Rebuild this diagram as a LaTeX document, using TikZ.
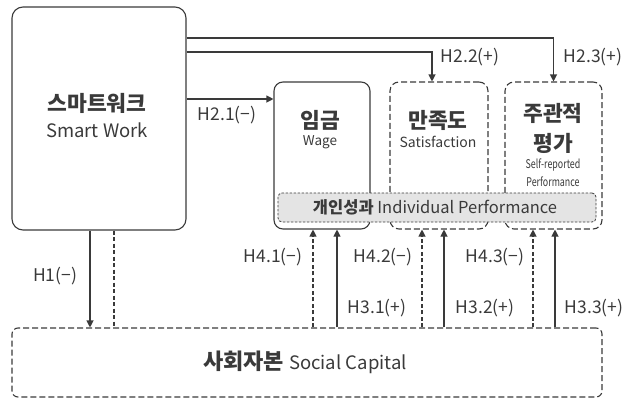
\documentclass[tikz,border=0pt]{standalone}
\usepackage{fontspec}
\setmainfont{Noto Sans CJK KR}
\usetikzlibrary{arrows.meta,calc}
\definecolor{ln}{HTML}{3A3A3A}
\definecolor{ipfill}{HTML}{E4E4E4}
\tikzset{
  box/.style={draw=ln,line width=1.1pt,rounded corners=9pt,inner sep=0pt},
  dbox/.style={box,dash pattern=on 6pt off 3pt},
  arr/.style={draw=ln,line width=1.1pt,-{Triangle[length=7pt,width=7pt]}},
  darr/.style={arr,dash pattern=on 4pt off 2.5pt},
  lbl/.style={font=\fontsize{17.5}{20}\selectfont,text=ln,inner sep=1pt},
  kr/.style={font=\fontsize{21.5}{24}\selectfont\bfseries},
}
\begin{document}
\begin{tikzpicture}[x=1pt,y=-1pt]
\useasboundingbox (0,0) rectangle (628,399);
% boxes
\node[box,minimum width=174pt,minimum height=223pt,rounded corners=11pt] (sw) at (99,118.5) {};
\node[box,minimum width=96pt,minimum height=147pt] (wage) at (322,155.5) {};
\node[dbox,minimum width=98pt,minimum height=147pt] (sat) at (439,155.5) {};
\node[dbox,minimum width=97pt,minimum height=147pt] (self) at (553.5,155.5) {};
\node[draw=ln,fill=ipfill,line width=0.8pt,dash pattern=on 2.5pt off 1.5pt,rounded corners=4pt,minimum width=318pt,minimum height=29pt,inner sep=0pt] (ip) at (437,207.5) {};
\node[dbox,minimum width=590pt,minimum height=69pt,rounded corners=6pt] (sc) at (307,362.5) {};
% texts
\node[kr,text=ln] (swk) at (97,103) {스마트워크};
\node[text=ln,font=\fontsize{18.5}{20}\selectfont] (swe) at (97,130) {Smart Work};
\node[kr,text=ln] (wk) at (320,120) {임금};
\node[text=ln,font=\fontsize{13.5}{15}\selectfont] (we) at (320,142) {Wage};
\node[kr,text=ln] (sk) at (438,120) {만족도};
\node[text=ln,font=\fontsize{14}{15}\selectfont] (se) at (438,142) {Satisfaction};
\node[kr,text=ln] (pk1) at (553,113) {주관적};
\node[kr,text=ln] (pk2) at (553,143) {평가};
\node[text=ln,font=\fontsize{12}{13}\selectfont,xscale=0.74] (pe1) at (553,165) {Self-reported};
\node[text=ln,font=\fontsize{12}{13}\selectfont,xscale=0.74] (pe2) at (553,182) {Performance};
\node[text=ln,font=\fontsize{16.5}{18}\selectfont] (ipt) at (435,207.5) {\textbf{개인성과} Individual Performance};
\node[text=ln] (sct) at (305,362) {\fontsize{22}{24}\selectfont\bfseries 사회자본\ \fontsize{18.5}{20}\selectfont\mdseries Social Capital};
% helper coordinates
\coordinate (l1) at (0,38);
\coordinate (l2) at (0,52);
\coordinate (l3) at (0,99);
\coordinate (x22) at (432,0);
\coordinate (x1) at (90,0);
\coordinate (xd) at (114,0);
\coordinate (x41) at (313,0);
\coordinate (x31) at (337,0);
\coordinate (x42) at (422,0);
\coordinate (x32) at (444,0);
\coordinate (x43) at (533,0);
\coordinate (x33) at (555,0);
% connectors
\draw[arr] (sw.east|-l1) -| (self.north);
\draw[arr] (sw.east|-l2) -| (x22|-sat.north);
\draw[arr] (sw.east|-l3) -- (wage.west|-l3);
\draw[arr] (sw.south-|x1) -- (sc.north-|x1);
\draw[draw=ln,line width=1.1pt,dash pattern=on 4pt off 2.5pt] (sw.south-|xd) -- (sc.north-|xd);
\draw[darr] (sc.north-|x41) -- (wage.south-|x41);
\draw[arr] (sc.north-|x31) -- (wage.south-|x31);
\draw[darr] (sc.north-|x42) -- (sat.south-|x42);
\draw[arr] (sc.north-|x32) -- (sat.south-|x32);
\draw[darr] (sc.north-|x43) -- (self.south-|x43);
\draw[arr] (sc.north-|x33) -- (self.south-|x33);
% labels
\node[lbl] (h21) at (227,115) {H2.1(−)};
\node[lbl] (h22) at (470,57) {H2.2(+)};
\node[lbl] (h23) at (593,57) {H2.3(+)};
\node[lbl] (h1) at (55,276) {H1(−)};
\node[lbl] (h41) at (273,257) {H4.1(−)};
\node[lbl] (h42) at (383,257) {H4.2(−)};
\node[lbl] (h43) at (495,257) {H4.3(−)};
\node[lbl] (h31) at (377,308) {H3.1(+)};
\node[lbl] (h32) at (485,308) {H3.2(+)};
\node[lbl] (h33) at (594,308) {H3.3(+)};
\end{tikzpicture}
\end{document}
